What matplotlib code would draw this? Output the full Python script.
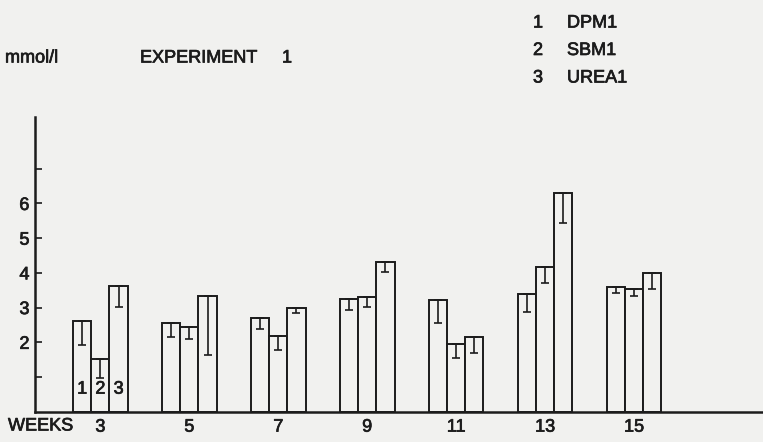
import matplotlib.pyplot as plt
import matplotlib.patheffects as pe
import numpy as np

# --- DATA ---
weeks = [3, 5, 7, 9, 11, 13, 15]
series_names = ["DPM1", "SBM1", "UREA1"]

# bar heights (mmol/l)
dpm1 = [2.62, 2.57, 2.69, 3.24, 3.22, 3.38, 3.60]
sbm1 = [1.51, 2.45, 2.18, 3.31, 1.94, 4.18, 3.53]
urea1 = [3.62, 3.34, 2.98, 4.31, 2.16, 6.29, 4.01]

# lower end of the error bar drawn inside each bar
dpm1_low = [1.92, 2.16, 2.37, 2.93, 2.55, 2.88, 3.43]
sbm1_low = [0.97, 2.09, 1.78, 3.01, 1.54, 3.72, 3.33]
urea1_low = [3.03, 1.63, 2.84, 4.02, 1.68, 5.43, 3.53]

heights = [dpm1, sbm1, urea1]
lows = [dpm1_low, sbm1_low, urea1_low]

# --- PLOTTING ---
ink = "#1c1c1c"
paper = "#f1f1ef"
plt.rcParams["font.family"] = ["Liberation Sans", "DejaVu Sans"]
# scanned print looks a bit heavier than a plain regular weight
thick = [pe.withStroke(linewidth=0.5, foreground=ink)]

fig = plt.figure(figsize=(7.63, 4.42), dpi=100, facecolor=paper)
ax = fig.add_axes([35 / 763, 30.3 / 442, 1 - 35 / 763, (411.7 - 116.7) / 442])
ax.set_facecolor(paper)

width = 0.41
x = np.array(weeks, dtype=float)
for i, (h, lo) in enumerate(zip(heights, lows)):
    xs = x + (i - 1) * width
    ax.bar(xs, h, width=width, color=paper, edgecolor=ink, linewidth=1.4, zorder=2)
    h = np.array(h)
    lo = np.array(lo)
    ax.errorbar(xs, h, yerr=[h - lo, np.zeros_like(h)], fmt="none",
                ecolor=ink, elinewidth=1.2, capsize=3, capthick=1.2, zorder=3)

# bar numbers under the first group
for i in range(3):
    ax.text(x[0] + (i - 1) * width, 0.65, str(i + 1), ha="center", va="center",
            fontsize=13, color=ink, zorder=4, path_effects=thick)

ax.set_xlim(1.53, 17.9)
ax.set_ylim(0, 8.5)

for side in ["top", "right"]:
    ax.spines[side].set_visible(False)
ax.spines["left"].set_linewidth(1.8)
ax.spines["bottom"].set_linewidth(1.8)
ax.spines["left"].set_color(ink)
ax.spines["bottom"].set_color(ink)

ax.set_yticks([1, 2, 3, 4, 5, 6, 7])
ax.set_yticklabels(["", "2", "3", "4", "5", "6", ""])
ax.tick_params(axis="y", direction="in", length=5, width=1.2, colors=ink,
               labelsize=13, pad=4)
ax.set_xticks(weeks)
ax.set_xticklabels([str(w) for w in weeks])
ax.tick_params(axis="x", length=0, colors=ink, labelsize=13, pad=5)
for lab in ax.get_xticklabels() + ax.get_yticklabels():
    lab.set_path_effects(thick)

txt = dict(va="center", fontsize=13, color=ink, path_effects=thick)
fig.text(8 / 763, 1 - 426 / 442, "WEEKS", ha="left", **txt)
fig.text(5 / 763, 1 - 58 / 442, "mmol/l", ha="left", **txt)
fig.text(140 / 763, 1 - 58 / 442, "EXPERIMENT", ha="left", **txt)
fig.text(282 / 763, 1 - 58 / 442, "1", ha="left", **txt)

for i, name in enumerate(series_names):
    yy = 1 - (23 + 27.5 * i) / 442
    fig.text(533 / 763, yy, str(i + 1), ha="left", **txt)
    fig.text(567 / 763, yy, name, ha="left", **txt)

fig.savefig("out.png", dpi=100, facecolor=paper)
